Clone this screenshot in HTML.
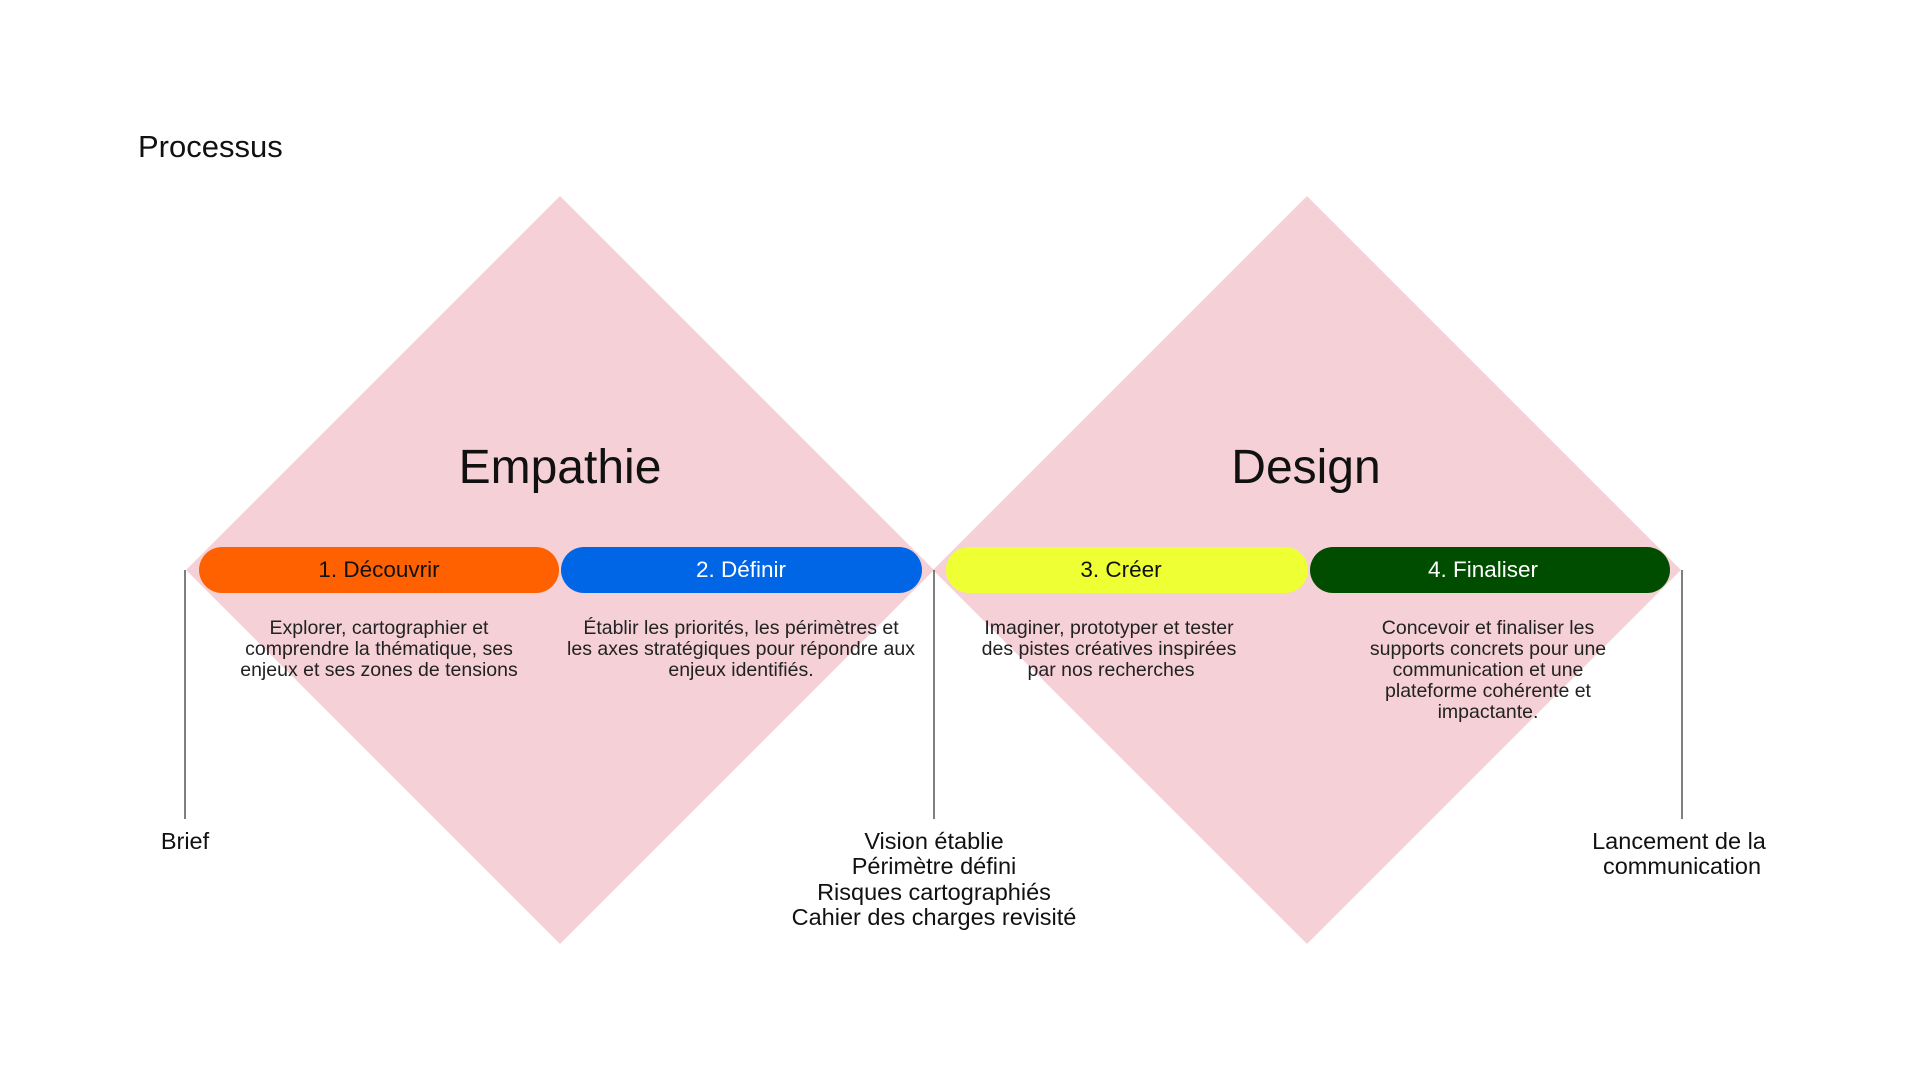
<!DOCTYPE html>
<html><head><meta charset="utf-8"><style>
html,body{margin:0;padding:0;background:#fff;}
svg{display:block;}
text{font-family:"Liberation Sans",sans-serif;}
</style></head><body>
<svg width="1920" height="1080" viewBox="0 0 1920 1080" xmlns="http://www.w3.org/2000/svg">
<rect width="1920" height="1080" fill="#fff"/>
<text x="138" y="157" font-size="31" fill="#111">Processus</text>
<polygon points="560,196 934,570 560,944 186,570" fill="#f5d1d7"/>
<polygon points="1307,196 1681,570 1307,944 933,570" fill="#f5d1d7"/>
<text x="560" y="483" font-size="48" text-anchor="middle" fill="#111">Empathie</text>
<text x="1306" y="483" font-size="48" text-anchor="middle" fill="#111">Design</text>
<rect x="199" y="547" width="360" height="46" rx="23" fill="#ff6000"/>
<rect x="561" y="547" width="361" height="46" rx="23" fill="#0066e6"/>
<rect x="946" y="547" width="362" height="46" rx="23" fill="#eeff33"/>
<rect x="1310" y="547" width="360" height="46" rx="23" fill="#004d00"/>
<g font-size="22.5" text-anchor="middle">
<text x="379" y="577" fill="#111">1. Découvrir</text>
<text x="741" y="577" fill="#fff">2. Définir</text>
<text x="1121" y="577" fill="#111">3. Créer</text>
<text x="1483" y="577" fill="#fff">4. Finaliser</text>
</g>
<g font-size="19.5" text-anchor="middle" fill="#222">
<text x="379" y="634">Explorer, cartographier et</text>
<text x="379" y="655">comprendre la thématique, ses</text>
<text x="379" y="676">enjeux et ses zones de tensions</text>
<text x="741" y="634">Établir les priorités, les périmètres et</text>
<text x="741" y="655">les axes stratégiques pour répondre aux</text>
<text x="741" y="676">enjeux identifiés.</text>
<text x="1109" y="634">Imaginer, prototyper et tester</text>
<text x="1109" y="655">des pistes créatives inspirées</text>
<text x="1111" y="676">par nos recherches</text>
<text x="1488" y="634">Concevoir et finaliser les</text>
<text x="1488" y="655">supports concrets pour une</text>
<text x="1488" y="676">communication et une</text>
<text x="1488" y="697">plateforme cohérente et</text>
<text x="1488" y="718">impactante.</text>
</g>
<g stroke="#555" stroke-width="1.5">
<line x1="185" y1="570" x2="185" y2="819"/>
<line x1="934" y1="570" x2="934" y2="819"/>
<line x1="1682" y1="570" x2="1682" y2="819"/>
</g>
<g font-size="23.5" text-anchor="middle" fill="#111">
<text x="185" y="849">Brief</text>
<text x="934" y="849">Vision établie</text>
<text x="934" y="874">Périmètre défini</text>
<text x="934" y="900">Risques cartographiés</text>
<text x="934" y="925">Cahier des charges revisité</text>
<text x="1679" y="849">Lancement de la</text>
<text x="1682" y="874">communication</text>
</g>
</svg>
</body></html>
